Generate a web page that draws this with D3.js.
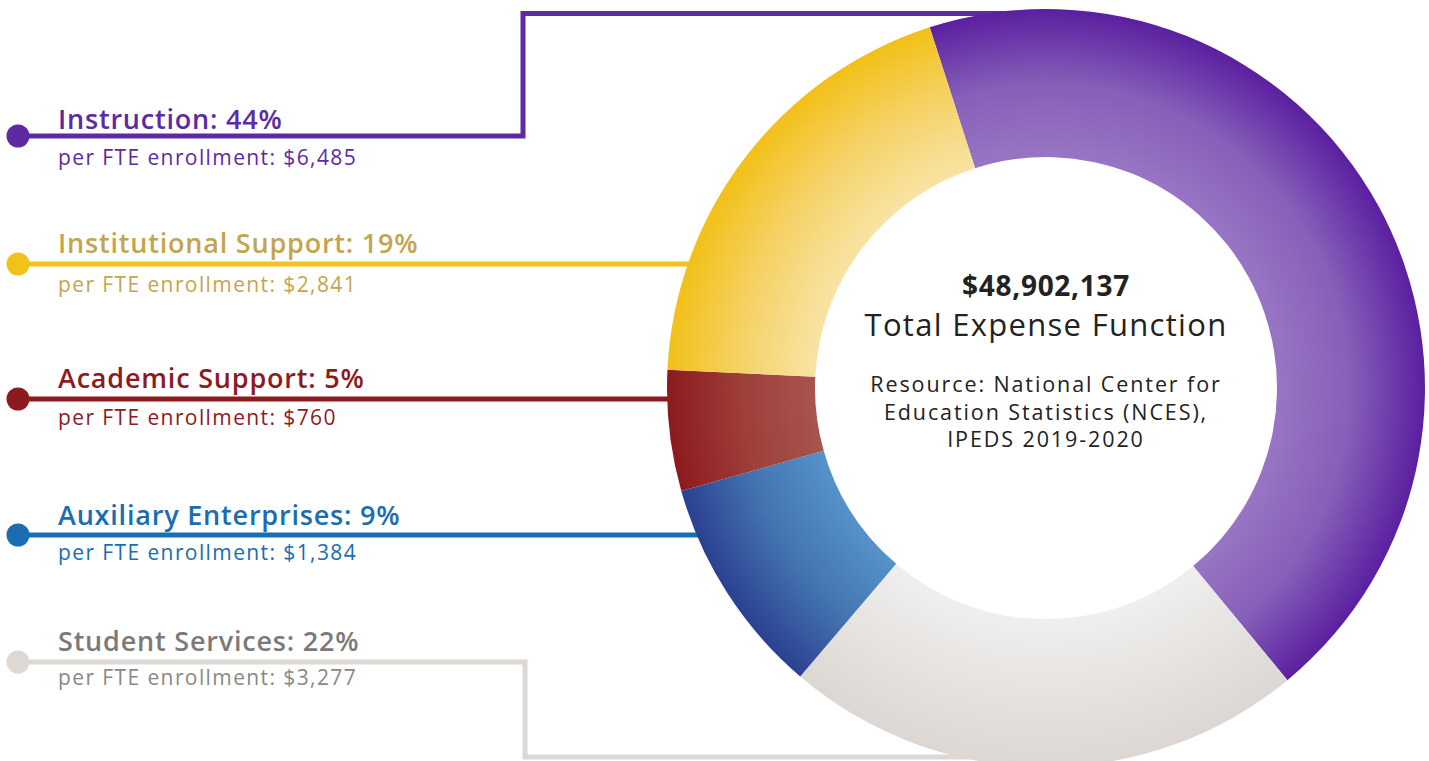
<!DOCTYPE html>
<html>
<head>
<meta charset="utf-8">
<script src="https://cdn.jsdelivr.net/npm/d3@7"></script>
<style>
  body { margin: 0; background: #fff; }
  svg { display: block; font-family: "Open Sans", Lato, sans-serif; }
</style>
</head>
<body>
<svg width="1429" height="761"></svg>
<script>
// data
const categories = ['Instruction', 'Institutional Support', 'Academic Support', 'Auxiliary Enterprises', 'Student Services'];
const percents = [44, 19, 5, 9, 22];
const perFTE = [6485, 2841, 760, 1384, 3277];
const totalExpense = 48902137;
const sourceLines = ['Resource: National Center for', 'Education Statistics (NCES),', 'IPEDS 2019-2020'];
// clockwise order of the ring, starting at the top
const ringOrder = [0, 4, 3, 2, 1];

// styles
const lineColors = ['#5e2aa2', '#f2c21b', '#8d1a1e', '#1a6db0', '#ddd8d4'];
const titleColors = ['#5e2aa2', '#c4a54e', '#8d1a1e', '#1a6db0', '#7c7a78'];
const subColors = ['#5e2aa2', '#c4a54e', '#8d1a1e', '#1a6db0', '#8a8886'];
const gradStops = [
  ['#9875c4', '#8660b9', '#5b1fa0'],
  ['#f8e3a4', '#f5d36a', '#f2c018'],
  ['#a8544f', '#9e3f39', '#8d1a1e'],
  ['#5692c9', '#4475b2', '#2b4190'],
  ['#f0efed', '#e6e3e0', '#dcd7d3']
];

const svg = d3.select('svg');
const width = +svg.attr('width');
const height = +svg.attr('height');

const cx = 1046, cy = 388;
const outerR = 379, innerR = 231;
const lineY = [136, 264, 399, 535, 662];
const titleY = [129, 253, 388, 525, 651];
const subY = [165, 292, 425, 560, 685];

const fmt = d3.format(',');

// connector lines (drawn under the ring)
const lines = svg.append('g').attr('class', 'connectors');
categories.forEach((c, i) => {
  let pts;
  if (i === 0) pts = [[18, lineY[i]], [523, lineY[i]], [523, 13.5], [cx, 13.5]];
  else if (i === 4) pts = [[18, lineY[i]], [525, lineY[i]], [525, 757], [cx, 757]];
  else pts = [[18, lineY[i]], [cx - 300, lineY[i]]];
  lines.append('path')
    .attr('d', d3.line()(pts))
    .attr('fill', 'none')
    .attr('stroke', lineColors[i])
    .attr('stroke-width', 5);
  lines.append('circle')
    .attr('cx', 18).attr('cy', lineY[i]).attr('r', 11.5)
    .attr('fill', lineColors[i]);
});

// labels
const labels = svg.append('g').attr('class', 'labels');
categories.forEach((c, i) => {
  labels.append('text')
    .attr('x', 58).attr('y', titleY[i])
    .attr('fill', titleColors[i])
    .attr('font-size', 27)
    .attr('font-weight', 600)
    .attr('letter-spacing', 0.8)
    .text(`${c}: ${percents[i]}%`);
  labels.append('text')
    .attr('x', 58).attr('y', subY[i])
    .attr('fill', subColors[i])
    .attr('font-size', 21)
    .attr('letter-spacing', 1.4)
    .text(`per FTE enrollment: $${fmt(perFTE[i])}`);
});

// ring
const defs = svg.append('defs');
categories.forEach((c, i) => {
  const g = defs.append('radialGradient')
    .attr('id', 'grad' + i)
    .attr('gradientUnits', 'userSpaceOnUse')
    .attr('cx', 0).attr('cy', 0).attr('r', outerR);
  g.append('stop').attr('offset', innerR / outerR).attr('stop-color', gradStops[i][0]);
  g.append('stop').attr('offset', 0.8).attr('stop-color', gradStops[i][1]);
  g.append('stop').attr('offset', 1).attr('stop-color', gradStops[i][2]);
});

const start = -0.312;
const pie = d3.pie().sort(null).value(i => perFTE[i])
  .startAngle(start).endAngle(start + 2 * Math.PI);
const arc = d3.arc().innerRadius(innerR).outerRadius(outerR);

const ring = svg.append('g').attr('transform', `translate(${cx},${cy})`);
ring.selectAll('path')
  .data(pie(ringOrder))
  .enter().append('path')
  .attr('d', arc)
  .attr('fill', d => `url(#grad${d.data})`);

// center text
const center = svg.append('g').attr('text-anchor', 'middle').attr('fill', '#222');
center.append('text')
  .attr('x', cx).attr('y', 296)
  .attr('font-size', 28).attr('font-weight', 700)
  .attr('letter-spacing', 0.7)
  .text('$' + fmt(totalExpense));
center.append('text')
  .attr('x', cx).attr('y', 336)
  .attr('font-size', 31)
  .attr('letter-spacing', 1.3)
  .text('Total Expense Function');
center.selectAll('.src')
  .data(sourceLines)
  .enter().append('text')
  .attr('class', 'src')
  .attr('x', cx).attr('y', (d, i) => 392 + i * 27.5)
  .attr('font-size', 21.5)
  .attr('letter-spacing', 1.9)
  .text(d => d);
</script>
</body>
</html>
